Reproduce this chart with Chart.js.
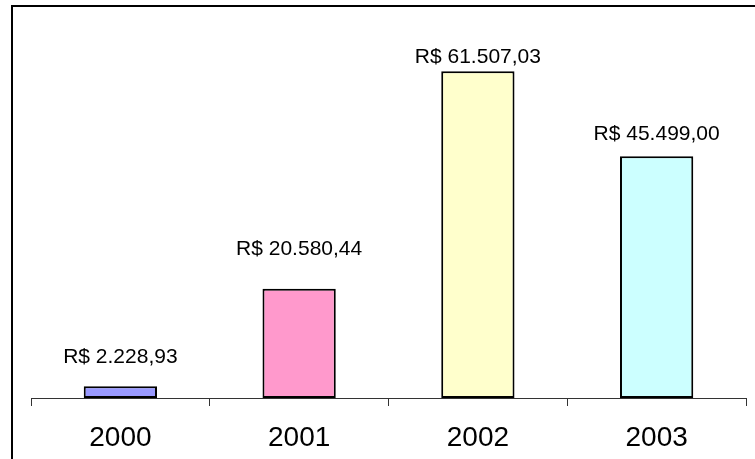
<!DOCTYPE html>
<html>
<head>
<meta charset="utf-8">
<script src="https://cdn.jsdelivr.net/npm/chart.js@4/dist/chart.umd.min.js"></script>
<style>
  html, body { margin: 0; padding: 0; background: #ffffff; }
  #wrap { position: relative; width: 755px; height: 459px; overflow: hidden; }
  #frame { position: absolute; left: 11px; top: 5px; width: 800px; height: 500px;
           border-left: 2px solid #000; border-top: 2px solid #000; }
  canvas { position: absolute; left: 0; top: 0; }
</style>
</head>
<body>
<div id="wrap">
  <div id="frame"></div>
  <canvas id="c" width="755" height="459"></canvas>
</div>
<script>
// Annual amounts in reais
const years = ['2000', '2001', '2002', '2003'];
const amounts = [2228.93, 20580.44, 61507.03, 45499.00];
const barColors = ['#9999FF', '#FF99CC', '#FFFFCC', '#CCFFFF'];
const axisMax = 70000;

// Brazilian currency format: R$ 61.507,03
function formatBRL(v) {
  const parts = v.toFixed(2).split('.');
  const intPart = parts[0].replace(/\B(?=(\d{3})+(?!\d))/g, '.');
  return 'R$ ' + intPart + ',' + parts[1];
}

// Writes each bar's amount above it (each label was placed by hand, so gaps differ)
const valueLabels = {
  id: 'valueLabels',
  afterDatasetsDraw(chart, args, opts) {
    const ctx = chart.ctx;
    const meta = chart.getDatasetMeta(0);
    ctx.save();
    ctx.font = '21px "Liberation Sans", Arial, sans-serif';
    ctx.fillStyle = '#000';
    ctx.textAlign = 'center';
    ctx.textBaseline = 'bottom';
    meta.data.forEach((bar, i) => {
      ctx.fillText(formatBRL(amounts[i]), bar.x, bar.y - opts.gaps[i]);
    });
    ctx.restore();
  }
};

new Chart(document.getElementById('c'), {
  type: 'bar',
  data: {
    labels: years,
    datasets: [{
      data: amounts,
      backgroundColor: barColors,
      borderColor: '#000',
      borderWidth: 2,
      borderSkipped: false,
      barPercentage: 0.41,
      categoryPercentage: 1
    }]
  },
  options: {
    responsive: false,
    animation: false,
    layout: { padding: { left: 31, right: 9, top: 26, bottom: 0 } },
    plugins: {
      legend: { display: false },
      tooltip: { enabled: false },
      valueLabels: { gaps: [18, 29, 3, 12] }
    },
    scales: {
      y: { display: false, min: 0, max: axisMax },
      x: {
        offset: true,
        afterFit(scale) { scale.height = 61; },
        border: { display: true, color: '#333', width: 1 },
        grid: { display: true, offset: true, drawOnChartArea: false, drawTicks: true,
                tickLength: 8, color: '#333' },
        ticks: { color: '#000', padding: 15,
                 font: { family: '"Liberation Sans", Arial, sans-serif', size: 28 } }
      }
    }
  },
  plugins: [valueLabels]
});
</script>
</body>
</html>
